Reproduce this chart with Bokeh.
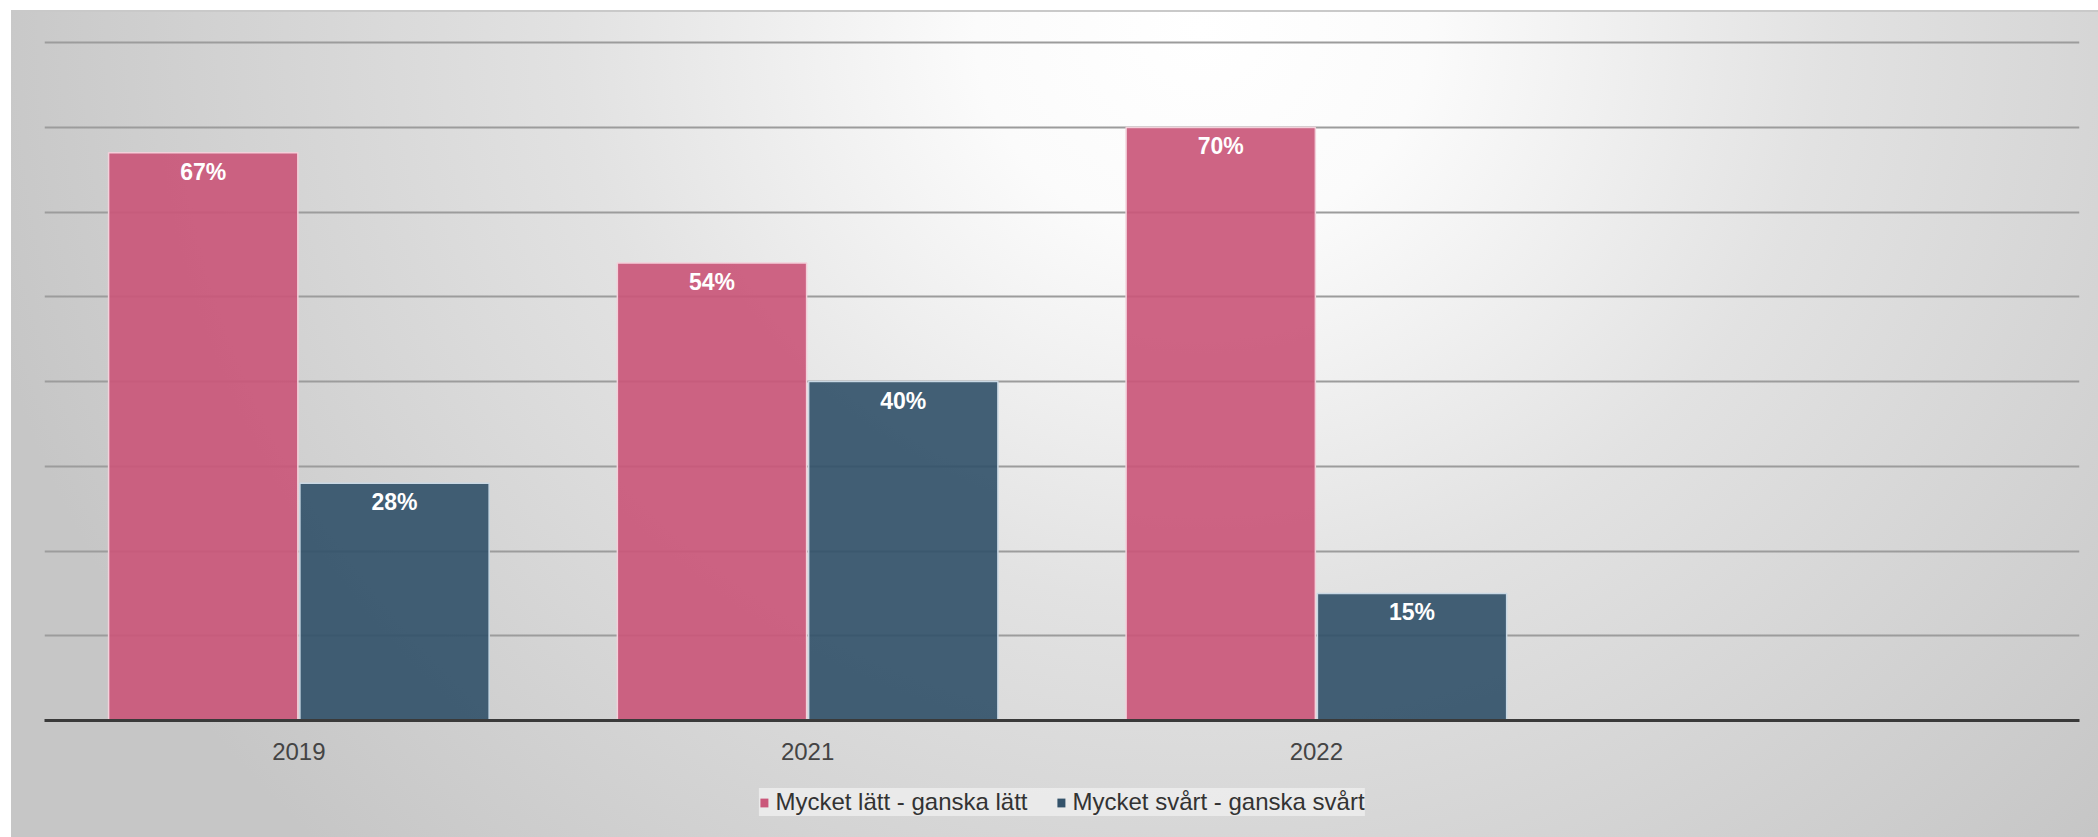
from bokeh.plotting import figure
from bokeh.layouts import column
from bokeh.models import (ColumnDataSource, FactorRange, Range1d, FixedTicker,
                          Legend, LegendItem)
from bokeh.transform import dodge
from bokeh.core.properties import value
from bokeh.embed import file_html
from bokeh.resources import INLINE

# ---- data ----
years = ["2019", "2021", "2022"]
latt = [67, 54, 70]          # Mycket lätt - ganska lätt
svart = [28, 40, 15]         # Mycket svårt - ganska svårt
series_names = ["Mycket lätt - ganska lätt", "Mycket svårt - ganska svårt"]
grid_ticks = [10, 20, 30, 40, 50, 60, 70, 80]

src = ColumnDataSource(dict(
    year=years,
    latt=latt,
    svart=svart,
    latt_lbl=[f"{v}%" for v in latt],
    svart_lbl=[f"{v}%" for v in svart],
))

PINK = "#ca577a"
BLUE = "#33526a"
FONT = "Liberation Sans"


def clear_bg(fig):
    fig.background_fill_alpha = 0
    fig.border_fill_alpha = 0
    fig.outline_line_color = None


p = figure(
    x_range=FactorRange(factors=years + [" "], range_padding=0),
    y_range=Range1d(0, 80.5),
    width=2087, height=757,
    output_backend="svg", toolbar_location=None,
    min_border_left=33, min_border_right=19, min_border_top=28, min_border_bottom=44,
)
clear_bg(p)

bar_l = dict(width=0.372, source=src, fill_alpha=0.92, line_width=1.5)
r1 = p.vbar(x=dodge("year", -0.188, range=p.x_range), top="latt",
            fill_color=PINK, line_color="#f3d0da", **bar_l)
r2 = p.vbar(x=dodge("year", 0.188, range=p.x_range), top="svart",
            fill_color=BLUE, line_color="#c9d8e4", **bar_l)

common = dict(text_align="center", text_baseline="middle", text_color="white",
              text_font_size="23px", text_font_style="bold", y_offset=19)
p.text(x=dodge("year", -0.188, range=p.x_range), y="latt", text="latt_lbl",
       source=src, text_font=value(FONT), **common)
p.text(x=dodge("year", 0.188, range=p.x_range), y="svart", text="svart_lbl",
       source=src, text_font=value(FONT), **common)

# axes / grid
p.yaxis.visible = False
p.xgrid.grid_line_color = None
p.ygrid.ticker = FixedTicker(ticks=grid_ticks)
p.ygrid.grid_line_color = "#9c9c9c"
p.ygrid.grid_line_width = 2

xa = p.xaxis[0]
xa.axis_line_color = "#3a3a3a"
xa.axis_line_width = 3
xa.major_tick_line_color = None
xa.minor_tick_line_color = None
xa.major_label_text_font = FONT
xa.major_label_text_font_size = "24px"
xa.major_label_text_color = "#444444"
xa.major_label_standoff = 11

# ---- legend strip ----
p2 = figure(width=2087, height=70, output_backend="svg", toolbar_location=None,
            min_border_left=11, min_border_right=0, min_border_top=0, min_border_bottom=0,
            x_range=Range1d(0, 1), y_range=Range1d(0, 1))
clear_bg(p2)
p2.axis.visible = False
p2.grid.visible = False
nan = float("nan")
proxy = ColumnDataSource(dict(x=[nan], top=[nan]))
g1 = p2.vbar(x="x", top="top", width=0.1, source=proxy, fill_color=PINK, line_color=None)
g2 = p2.vbar(x="x", top="top", width=0.1, source=proxy, fill_color=BLUE, line_color=None)

legend = Legend(
    items=[LegendItem(label=series_names[0], renderers=[g1], index=0),
           LegendItem(label=series_names[1], renderers=[g2], index=0)],
    orientation="horizontal", location="center",
    label_text_font=FONT, label_text_font_size="24px", label_text_color="#333333",
    glyph_width=10, glyph_height=11, label_standoff=7, spacing=28,
    padding=20, margin=0, label_height=27,
    background_fill_color="#ececec", background_fill_alpha=0.9,
    border_line_color=None,
)
p2.add_layout(legend, "center")

layout = column(p, p2, spacing=0)
layout.margin = (10, 0, 0, 11)
layout.styles = {
    "background": "linear-gradient(#c9c9c9, #c9c9c9) top / 100% 2px no-repeat, "
                  "radial-gradient(ellipse 1250px 1150px at 1190px 20px, "
                  "#ffffff 0%, #fbfbfb 18%, #e2e2e2 50%, #c6c6c6 100%)"
}

open("out.html", "w").write(file_html(layout, INLINE))
